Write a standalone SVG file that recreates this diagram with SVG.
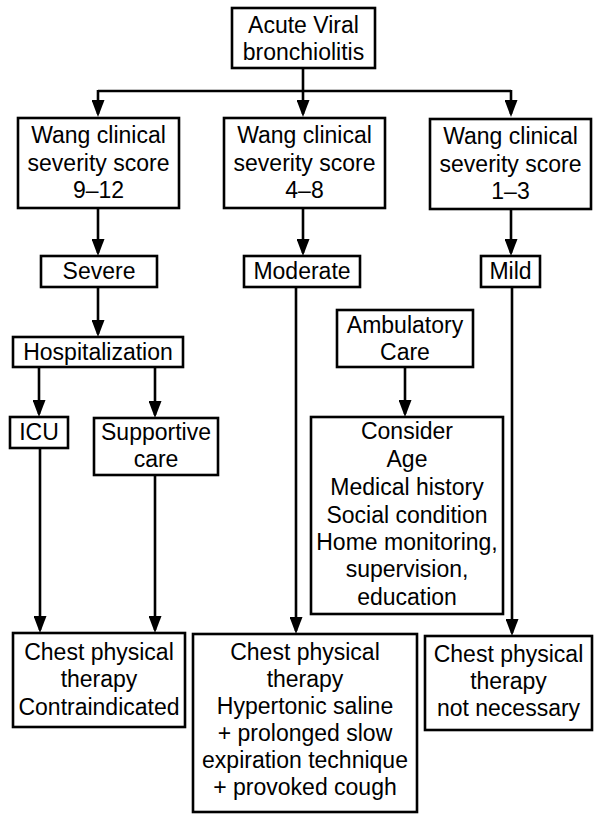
<svg xmlns="http://www.w3.org/2000/svg" width="594" height="814" viewBox="0 0 594 814">
<style>
.box{fill:#fff;stroke:#000;stroke-width:2.6}
.t{font-family:"Liberation Sans",Arial,Helvetica,sans-serif;font-size:23px;fill:#000;text-anchor:middle}
.c{fill:none;stroke:#000;stroke-width:2.6}
</style>
<defs>
<marker id="arr" viewBox="0 0 17 13" markerWidth="17" markerHeight="13" markerUnits="userSpaceOnUse" refX="14" refY="6.5" orient="auto">
<path d="M0,0 L17,6.5 L0,13 z" fill="#000"/>
</marker>
</defs>
<rect width="594" height="814" fill="#fff"/>
<g id="connectors">
<path class="c" d="M303,68 V114" marker-end="url(#arr)"/>
<path class="c" d="M98,91 H511"/>
<path class="c" d="M98,90 V114" marker-end="url(#arr)"/>
<path class="c" d="M511,90 V114" marker-end="url(#arr)"/>
<path class="c" d="M98,208 V253" marker-end="url(#arr)"/>
<path class="c" d="M303,208 V253" marker-end="url(#arr)"/>
<path class="c" d="M511,209 V253" marker-end="url(#arr)"/>
<path class="c" d="M98,287 V334" marker-end="url(#arr)"/>
<path class="c" d="M39,367 V414" marker-end="url(#arr)"/>
<path class="c" d="M155,367 V415" marker-end="url(#arr)"/>
<path class="c" d="M40,448 V630" marker-end="url(#arr)"/>
<path class="c" d="M155,475 V630" marker-end="url(#arr)"/>
<path class="c" d="M296,287 V631" marker-end="url(#arr)"/>
<path class="c" d="M405,367 V414" marker-end="url(#arr)"/>
<path class="c" d="M512,287 V633" marker-end="url(#arr)"/>
</g>
<g id="n-acute">
<rect class="box" x="232" y="8" width="143" height="60"/>
<text class="t" x="303.5" y="33">Acute Viral</text>
<text class="t" x="303.5" y="60">bronchiolitis</text>
</g>
<g id="n-wang912">
<rect class="box" x="18" y="118" width="161" height="90"/>
<text class="t" x="98.5" y="143">Wang clinical</text>
<text class="t" x="98.5" y="171">severity score</text>
<text class="t" x="98.5" y="198">9–12</text>
</g>
<g id="n-wang48">
<rect class="box" x="224" y="118" width="161" height="90"/>
<text class="t" x="304.5" y="143">Wang clinical</text>
<text class="t" x="304.5" y="171">severity score</text>
<text class="t" x="304.5" y="198">4–8</text>
</g>
<g id="n-wang13">
<rect class="box" x="430" y="119" width="161" height="90"/>
<text class="t" x="510.5" y="144">Wang clinical</text>
<text class="t" x="510.5" y="172">severity score</text>
<text class="t" x="510.5" y="199">1–3</text>
</g>
<g id="n-severe">
<rect class="box" x="41" y="256" width="116" height="31"/>
<text class="t" x="99" y="279">Severe</text>
</g>
<g id="n-moderate">
<rect class="box" x="244" y="256" width="116" height="31"/>
<text class="t" x="302" y="279">Moderate</text>
</g>
<g id="n-mild">
<rect class="box" x="481" y="256" width="59" height="31"/>
<text class="t" x="510.5" y="279">Mild</text>
</g>
<g id="n-hosp">
<rect class="box" x="13" y="337" width="170" height="30"/>
<text class="t" x="98" y="360">Hospitalization</text>
</g>
<g id="n-ambulatory">
<rect class="box" x="337" y="310" width="136" height="57"/>
<text class="t" x="405" y="333">Ambulatory</text>
<text class="t" x="405" y="360">Care</text>
</g>
<g id="n-icu">
<rect class="box" x="10" y="417" width="58" height="31"/>
<text class="t" x="39" y="440">ICU</text>
</g>
<g id="n-supportive">
<rect class="box" x="94" y="418" width="124" height="57"/>
<text class="t" x="156" y="440">Supportive</text>
<text class="t" x="156" y="467">care</text>
</g>
<g id="n-consider">
<rect class="box" x="311" y="417" width="192" height="197"/>
<text class="t" x="407" y="439">Consider</text>
<text class="t" x="407" y="467">Age</text>
<text class="t" x="407" y="495">Medical history</text>
<text class="t" x="407" y="523">Social condition</text>
<text class="t" x="407" y="550">Home monitoring,</text>
<text class="t" x="407" y="577">supervision,</text>
<text class="t" x="407" y="605">education</text>
</g>
<g id="n-contra">
<rect class="box" x="13" y="633" width="172" height="94"/>
<text class="t" x="99" y="660">Chest physical</text>
<text class="t" x="99" y="687">therapy</text>
<text class="t" x="99" y="715">Contraindicated</text>
</g>
<g id="n-hypertonic">
<rect class="box" x="193" y="634" width="224" height="178"/>
<text class="t" x="305" y="660">Chest physical</text>
<text class="t" x="305" y="687">therapy</text>
<text class="t" x="305" y="714">Hypertonic saline</text>
<text class="t" x="305" y="741">+ prolonged slow</text>
<text class="t" x="305" y="768">expiration technique</text>
<text class="t" x="305" y="795">+ provoked cough</text>
</g>
<g id="n-notnec">
<rect class="box" x="425" y="636" width="167" height="94"/>
<text class="t" x="508.5" y="662">Chest physical</text>
<text class="t" x="508.5" y="689">therapy</text>
<text class="t" x="508.5" y="716">not necessary</text>
</g>
</svg>
